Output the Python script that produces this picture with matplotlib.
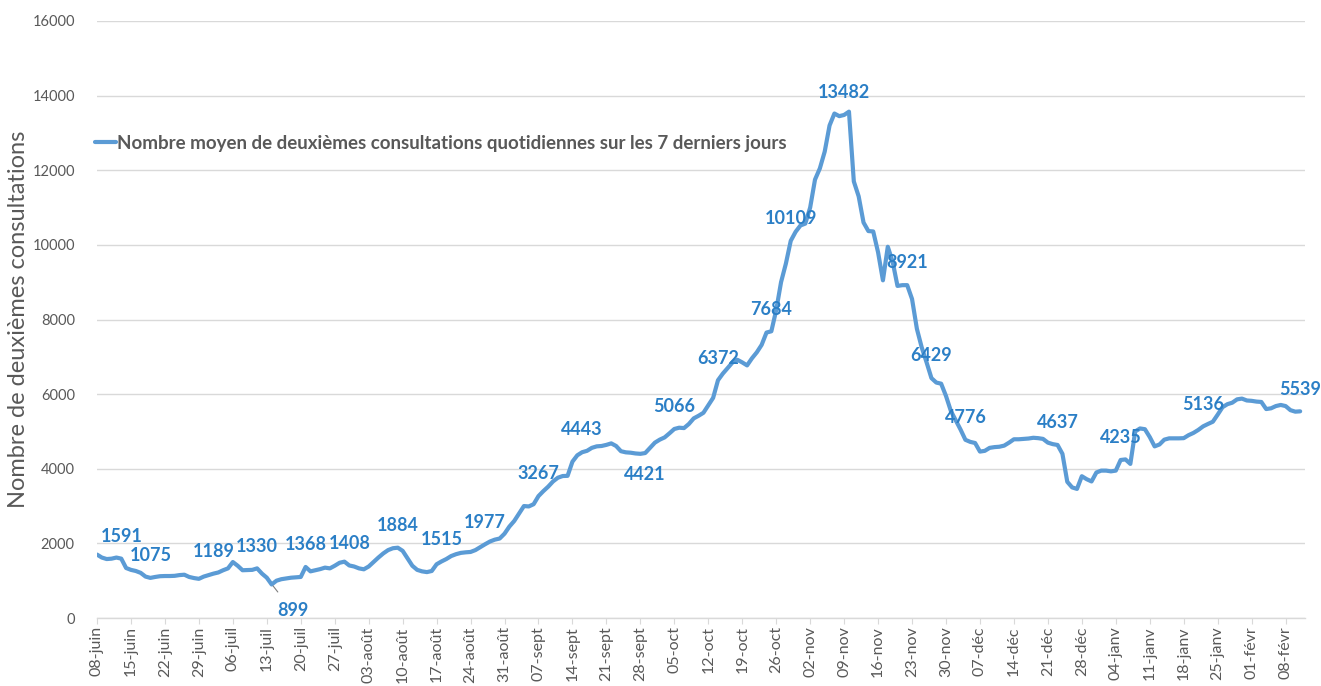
import matplotlib
matplotlib.use("Agg")
import matplotlib.pyplot as plt
import numpy as np

# ---------------- data ----------------
series_name = "Nombre moyen de deuxièmes consultations quotidiennes sur les 7 derniers jours"
y_label = "Nombre de deuxièmes consultations"

values = [
    1700, 1620, 1580, 1590, 1620, 1591, 1340, 1290, 1260, 1210,
    1110, 1075, 1100, 1120, 1125, 1125, 1130, 1150, 1160, 1100,
    1070, 1050, 1110, 1150, 1189, 1220, 1280, 1330, 1500, 1400,
    1280, 1285, 1290, 1330, 1190, 1080, 899, 1000, 1040, 1060,
    1080, 1090, 1100, 1368, 1250, 1280, 1310, 1350, 1330, 1400,
    1480, 1510, 1408, 1380, 1330, 1305, 1380, 1500, 1620, 1730,
    1820, 1870, 1884, 1800, 1600, 1400, 1290, 1250, 1230, 1260,
    1440, 1515, 1580, 1660, 1710, 1745, 1760, 1770, 1820, 1900,
    1977, 2050, 2100, 2130, 2260, 2450, 2600, 2800, 3000, 2990,
    3050, 3267, 3400, 3520, 3660, 3760, 3805, 3810, 4190, 4360,
    4443, 4480, 4560, 4600, 4610, 4640, 4680, 4610, 4470, 4440,
    4430, 4410, 4400, 4421, 4560, 4700, 4780, 4840, 4950, 5066,
    5100, 5090, 5200, 5350, 5420,
    5500, 5700, 5900, 6372, 6550, 6700, 6850, 6920, 6850, 6770,
    6960, 7120, 7320, 7650, 7684, 8250, 9000, 9500, 10109, 10350,
    10520, 10570, 11000, 11750, 12050, 12500, 13200, 13520, 13450, 13482,
    13570, 11700, 11300, 10600, 10370, 10360, 9800, 9050, 9950, 9550,
    8900, 8920, 8921, 8550, 7750, 7250, 6850, 6429, 6310, 6280,
    5950, 5550, 5300, 5050, 4776, 4720, 4690, 4460, 4480, 4560,
    4580, 4590, 4620, 4700, 4790, 4790, 4800, 4810, 4830, 4820,
    4800, 4700, 4660, 4637, 4400, 3650, 3500, 3460, 3800, 3720,
    3660, 3900, 3950, 3950, 3930, 3950, 4235, 4250, 4130, 5000,
    5080, 5060, 4850, 4600, 4650, 4780, 4815, 4815, 4815, 4820,
    4900, 4960, 5040, 5136, 5200, 5260, 5450, 5650, 5730, 5770,
    5860, 5880, 5830, 5820, 5800, 5790, 5600, 5620, 5680, 5710,
    5680, 5570, 5530, 5539,
]

tick_labels = [
    "08-juin", "15-juin", "22-juin", "29-juin", "06-juil", "13-juil", "20-juil",
    "27-juil", "03-août", "10-août", "17-août", "24-août", "31-août", "07-sept",
    "14-sept", "21-sept", "28-sept", "05-oct", "12-oct", "19-oct", "26-oct",
    "02-nov", "09-nov", "16-nov", "23-nov", "30-nov", "07-déc", "14-déc",
    "21-déc", "28-déc", "04-janv", "11-janv", "18-janv", "25-janv", "01-févr",
    "08-févr",
]

# indices (days) carrying a data label
label_days = [5, 11, 24, 33, 36, 43, 52, 62, 71, 80, 91, 100, 113, 119, 128,
              139, 143, 154, 167, 172, 179, 198, 211, 228, 248]

y_ticks = [0, 2000, 4000, 6000, 8000, 10000, 12000, 14000, 16000]

# ---------------- styling ----------------
W, H = 1321, 686
LINE_C = "#5B9BD5"
LABEL_C = "#2B7FC6"
GRAY_T = "#595959"
GRID_C = "#D9D9D9"
FONT = ["Lato", "DejaVu Sans"]

plt.rcParams["font.family"] = FONT

fig = plt.figure(figsize=(W / 100, H / 100), dpi=100)
fig.patch.set_facecolor("white")
ax_w = 1305 - 97
ax = fig.add_axes([97 / W, 68 / H, ax_w / W, (618 - 21) / H])

days = np.arange(len(values))
vals = np.array(values, dtype=float)

ax.plot(days, vals, color=LINE_C, lw=3.0, solid_joinstyle="round",
        solid_capstyle="round", label=series_name, zorder=3)

ax.set_xlim(0, 249)
ax.set_ylim(0, 16000)
ax.set_yticks(y_ticks)
ax.set_yticklabels([str(v) for v in y_ticks], color=GRAY_T, fontsize=10.5)
ax.set_xticks(np.arange(len(tick_labels)) * 7)
ax.set_xticklabels(tick_labels, rotation=90, color=GRAY_T, fontsize=11.5,
                   va="top", ha="center")

ax.grid(axis="y", color=GRID_C, lw=1)
ax.set_axisbelow(True)
for s in ["top", "right", "left"]:
    ax.spines[s].set_visible(False)
ax.spines["bottom"].set_color(GRID_C)
ax.spines["bottom"].set_linewidth(1)
ax.tick_params(axis="y", length=0, pad=16)
ax.tick_params(axis="x", length=4, color=GRID_C, pad=2)

ax.set_ylabel(y_label, color=GRAY_T, fontsize=17)
ax.yaxis.set_label_coords((29 - 97) / ax_w, 0.5)

# data labels
for d in label_days:
    v = values[d]
    txt = str(v)
    if d == 36:
        ax.annotate(txt, xy=(d + 0.3, v - 40), xytext=(14, -18),
                    textcoords="offset points", ha="center", va="center",
                    color=LABEL_C, fontsize=13, fontweight="bold",
                    arrowprops=dict(arrowstyle="-", color="#7F7F7F", lw=0.8,
                                    shrinkA=7, shrinkB=0), zorder=4)
    elif d == 113:
        ax.annotate(txt, xy=(d, v), xytext=(0, -15.5),
                    textcoords="offset points", ha="center", va="center",
                    color=LABEL_C, fontsize=13, fontweight="bold", zorder=4)
    else:
        ax.annotate(txt, xy=(d, v), xytext=(0, 16),
                    textcoords="offset points", ha="center", va="center",
                    color=LABEL_C, fontsize=13, fontweight="bold", zorder=4)

leg = ax.legend(loc="center left", bbox_to_anchor=(95 / W, 1 - 143 / H),
                bbox_transform=fig.transFigure, frameon=False,
                handlelength=1.1, handletextpad=0.05, borderpad=0,
                borderaxespad=0, prop={"family": FONT, "weight": "bold", "size": 13.5})
for t in leg.get_texts():
    t.set_color(GRAY_T)

fig.savefig("out.png", dpi=100, facecolor="white")
